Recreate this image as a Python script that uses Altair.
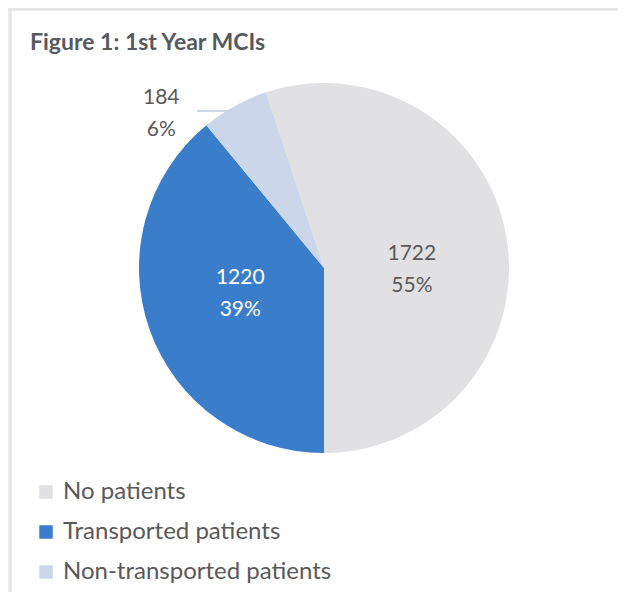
import altair as alt
import pandas as pd

# ---- data ----
categories = ["No patients", "Transported patients", "Non-transported patients"]
counts = [1722, 1220, 184]
percents = [55, 39, 6]
stack_order = ["Transported patients", "Non-transported patients", "No patients"]
colors = ["#e1e1e3", "#3a7dca", "#ccd6eb"]
title_text = "Figure 1: 1st Year MCIs"

df = pd.DataFrame({
    "category": categories,
    "count": counts,
    "pct": percents,
})
df["rank"] = [stack_order.index(c) for c in categories]
df["label"] = [f"{c}\n{p}%" for c, p in zip(counts, percents)]

W, H = 610, 584
CX, CY = 316, 260
R = 185
FONT = "Lato"

base = alt.Chart(df).encode(
    theta=alt.Theta("count:Q", stack=True,
                    scale=alt.Scale(range=[3.14159265, 3 * 3.14159265])),
    order=alt.Order("rank:O", sort="ascending"),
    x=alt.value(CX),
    y=alt.value(CY),
)

pie = base.mark_arc(outerRadius=R, stroke=None).encode(
    color=alt.Color(
        "category:N",
        scale=alt.Scale(domain=categories, range=colors),
        legend=alt.Legend(
            title=None, orient="none", legendX=26, legendY=472,
            direction="vertical", symbolType="square", symbolSize=182,
            symbolStrokeWidth=0, labelFontSize=24, labelFont=FONT,
            labelColor="#595959", rowPadding=16, labelOffset=5, padding=0,
            labelLimit=500,
        ),
    )
)

def label_layer(cat, radius, dx, dy, color):
    return base.mark_text(
        radius=radius, dx=dx, dy=dy, fontSize=21, font=FONT, lineBreak="\n",
        lineHeight=32, align="center", baseline="middle", color=color,
    ).encode(
        text=alt.condition(alt.datum.category == cat, "label:N", alt.value(""))
    )

lab_grey = label_layer("No patients", 89, 0, 0, "#595959")
lab_blue = label_layer("Transported patients", 89, 0, -20, "#ffffff")
lab_small = label_layer("Non-transported patients", 225, -54, 27, "#595959")

leader = alt.Chart(df).mark_rule(color="#c9d2e6", strokeWidth=1).encode(
    x=alt.value(189), x2=alt.value(224), y=alt.value(103)
)

frame = alt.Chart(df).mark_rect(fill=None, stroke="#e6e6e6", strokeWidth=3).encode(
    x=alt.value(2), x2=alt.value(800), y=alt.value(1), y2=alt.value(800)
)

title = alt.Chart(pd.DataFrame({"t": [title_text]})).mark_text(
    font=FONT, fontSize=23, fontWeight="bold", color="#555a5e",
    align="left", baseline="alphabetic",
).encode(text="t:N", x=alt.value(22), y=alt.value(42))

chart = alt.layer(frame, pie, lab_grey, lab_blue, lab_small, leader, title).properties(
    width=W, height=H, autosize=alt.AutoSizeParams(type="none"), padding=0,
).configure_view(stroke=None)

chart.save("out.html", embed_options={"renderer": "svg", "actions": False})
